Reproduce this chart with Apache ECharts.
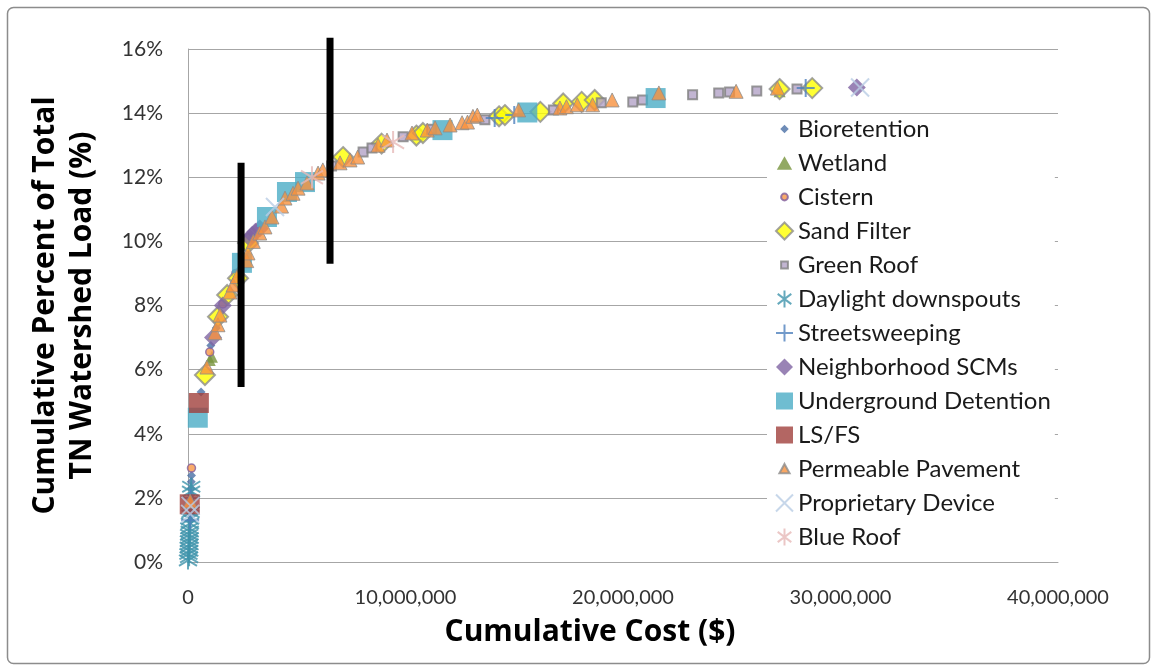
<!DOCTYPE html>
<html>
<head>
<meta charset="utf-8">
<script src="https://cdn.jsdelivr.net/npm/echarts@6/dist/echarts.min.js"></script>
<style>
  body { margin: 0; background: #fff; }
  #main { width: 1153px; height: 666px; }
</style>
</head>
<body>
<div id="main"></div>
<script>
// cost ($), cumulative percent of TN load (%)
const bioretention = [[0.12e6, 1.3], [0.13e6, 1.5], [0.13e6, 1.7], [0.14e6, 1.9], [0.14e6, 2.1], [0.15e6, 2.3], [0.15e6, 2.5], [0.16e6, 2.7], [0.6e6, 5.3], [1.05e6, 6.75], [1.3e6, 7.3]];
const wetland = [[1.0e6, 6.3], [1.1e6, 6.4], [27.2e6, 14.68]];
const cistern = [[0.16e6, 2.93], [1.0e6, 6.55], [1.6e6, 8.05], [2.2e6, 9.0]];
const sandFilter = [[0.78e6, 5.83], [1.38e6, 7.65], [1.8e6, 8.33], [2.3e6, 8.85], [2.76e6, 9.95], [7.13e6, 12.63], [8.9e6, 13.05], [10.5e6, 13.3], [10.8e6, 13.38], [14.3e6, 13.9], [14.57e6, 13.94], [16.2e6, 14.04], [17.25e6, 14.3], [18.1e6, 14.35], [18.7e6, 14.41], [27.2e6, 14.75], [28.7e6, 14.78]];
const greenRoof = [[6.6e6, 12.35], [8.05e6, 12.79], [8.46e6, 12.91], [9.89e6, 13.26], [11.2e6, 13.5], [13.65e6, 13.79], [16.8e6, 14.1], [19.0e6, 14.32], [20.45e6, 14.35], [20.9e6, 14.41], [23.2e6, 14.57], [24.4e6, 14.63], [24.9e6, 14.66], [26.15e6, 14.69], [28.0e6, 14.75]];
const daylight = [[0.0e6, 0.05], [0.05e6, 0.15], [0.02e6, 0.25], [0.06e6, 0.35], [0.03e6, 0.45], [0.07e6, 0.55], [0.04e6, 0.65], [0.08e6, 0.75], [0.05e6, 0.85], [0.08e6, 0.95], [0.06e6, 1.05], [0.09e6, 1.2], [0.1e6, 1.35], [0.12e6, 1.55], [0.14e6, 2.2], [0.15e6, 2.35]];
const streetsweeping = [[0.1e6, 1.3], [0.11e6, 1.6], [0.12e6, 2.0], [14.1e6, 13.85], [15.0e6, 13.94], [28.4e6, 14.78]];
const neighborhood = [[1.15e6, 7.0], [1.6e6, 8.0], [2.85e6, 10.1], [2.95e6, 10.2], [3.1e6, 10.3], [3.3e6, 10.4], [30.75e6, 14.8]];
const undergroundDetention = [[0.45e6, 4.5], [2.48e6, 9.33], [3.63e6, 10.76], [4.55e6, 11.54], [5.38e6, 11.85], [11.7e6, 13.47], [15.6e6, 14.02], [21.5e6, 14.47]];
const lsfs = [[0.08e6, 1.8], [0.5e6, 4.96]];
const permeable = [[0.1e6, 1.9], [0.87e6, 6.08], [1.24e6, 7.15], [1.38e6, 7.4], [1.47e6, 7.7], [1.93e6, 8.42], [2.07e6, 8.64], [2.25e6, 8.9], [2.7e6, 9.4], [2.76e6, 9.64], [3.0e6, 10.0], [3.3e6, 10.26], [3.54e6, 10.45], [3.86e6, 10.76], [4.3e6, 11.1], [4.46e6, 11.35], [4.83e6, 11.5], [5.06e6, 11.66], [5.47e6, 11.82], [5.98e6, 12.13], [6.2e6, 12.23], [6.99e6, 12.45], [7.45e6, 12.54], [7.8e6, 12.63], [8.74e6, 13.0], [9.15e6, 13.16], [10.3e6, 13.38], [11.0e6, 13.47], [11.36e6, 13.54], [12.05e6, 13.63], [12.6e6, 13.7], [12.85e6, 13.72], [13.1e6, 13.9], [13.3e6, 13.94], [15.2e6, 14.1], [17.1e6, 14.16], [17.4e6, 14.2], [17.9e6, 14.26], [18.6e6, 14.26], [19.5e6, 14.41], [21.65e6, 14.63], [25.2e6, 14.68], [27.1e6, 14.78]];
const proprietary = [[0.1e6, 1.5], [0.12e6, 1.75], [4.0e6, 11.07], [30.9e6, 14.8]];
const blueRoof = [[5.7e6, 12.0], [9.43e6, 13.1]];

// the two black marker bars
const bar1 = [[2.44e6, 5.46], [2.44e6, 12.45]];
const bar2 = [[6.53e6, 9.3], [6.53e6, 16.35]];

const yTicks = [0, 2, 4, 6, 8, 10, 12, 14, 16];
const xTicks = [0, 10e6, 20e6, 30e6, 40e6];

const FONT = 'Lato';
const TITLE_FONT = 'Open Sans';
const ASTERISK = 'path://M0,-10L0,10M-8,-6L8,6M-8,6L8,-6';
const PLUS = 'path://M0,-10L0,10M-10,0L10,0';
const CROSS = 'path://M-10,-10L10,10M-10,10L10,-10';
// legend-only icons: an invisible frame keeps the small marks small
const FRAME = 'M-10,-10L-10,-10M10,10L10,10';
const SMALL_DIAMOND = 'path://' + FRAME + 'M0,-5L5,0L0,5L-5,0Z';
const SMALL_RECT = 'path://' + FRAME + 'M-4,-4L4,-4L4,4L-4,4Z';
const SMALL_CIRCLE = 'path://' + FRAME + 'M-4,0A4,4 0 1,0 4,0A4,4 0 1,0 -4,0Z';
const SMALL_TRIANGLE = 'path://' + FRAME + 'M0,-6L6,5L-6,5Z';
const MID_TRIANGLE = 'path://' + FRAME + 'M0,-8L9,8L-9,8Z';

function sc(name, data, symbol, size, style) {
  return {
    name: name, type: 'scatter', data: data,
    symbol: symbol, symbolSize: size,
    itemStyle: style,
    emphasis: { disabled: true }
  };
}

const chart = echarts.init(document.getElementById('main'));
chart.setOption({
  animation: false,
  backgroundColor: '#fff',
  textStyle: { fontFamily: FONT },
  graphic: [{
    type: 'rect', left: 5, top: 5, silent: true, z: -10,
    shape: { width: 1142, height: 656, r: 6 },
    style: { fill: 'none', stroke: '#8c8c8c', lineWidth: 1.5 }
  }],
  grid: { left: 188, right: 95, top: 49, bottom: 104 },
  legend: {
    orient: 'vertical', left: 767, top: 115,
    backgroundColor: '#fff', padding: [2, 4, 6, 8],
    itemWidth: 17, itemHeight: 17, itemGap: 10,
    textStyle: { fontFamily: FONT, fontSize: 24, color: '#1a1a1a', lineHeight: 24 },
    data: [
      { name: 'Bioretention', icon: SMALL_DIAMOND },
      { name: 'Wetland', icon: MID_TRIANGLE },
      { name: 'Cistern', icon: SMALL_CIRCLE },
      { name: 'Sand Filter' },
      { name: 'Green Roof', icon: SMALL_RECT },
      { name: 'Daylight downspouts' },
      { name: 'Streetsweeping' },
      { name: 'Neighborhood SCMs' },
      { name: 'Underground Detention' },
      { name: 'LS/FS' },
      { name: 'Permeable Pavement', icon: SMALL_TRIANGLE },
      { name: 'Proprietary Device' },
      { name: 'Blue Roof' }
    ],
    z: 20
  },
  xAxis: {
    type: 'value', min: xTicks[0], max: xTicks[xTicks.length - 1], interval: 10e6,
    name: 'Cumulative Cost ($)', nameLocation: 'middle', nameGap: 55,
    nameTextStyle: { fontFamily: TITLE_FONT, fontSize: 30, fontWeight: 'bold', color: '#000', padding: [0, 66, 0, 0] },
    axisLine: { show: true, lineStyle: { color: '#a6a6a6', width: 1 } },
    axisTick: { show: false },
    splitLine: { show: false },
    axisLabel: {
      fontFamily: FONT, fontSize: 20, color: '#333', margin: 26,
      formatter: v => v.toLocaleString('en-US')
    }
  },
  yAxis: {
    type: 'value', min: yTicks[0], max: yTicks[yTicks.length - 1], interval: 2,
    name: 'Cumulative Percent of Total\nTN Watershed Load (%)', nameLocation: 'middle', nameGap: 87,
    nameTextStyle: { fontFamily: TITLE_FONT, fontSize: 30, fontWeight: 'bold', color: '#000', lineHeight: 37 },
    axisLine: { show: true, lineStyle: { color: '#a6a6a6', width: 1 } },
    axisTick: { show: false },
    splitLine: { lineStyle: { color: '#a6a6a6', width: 1 } },
    axisLabel: { fontFamily: FONT, fontSize: 21, color: '#333', margin: 25, formatter: '{value}%' }
  },
  series: [
    sc('Bioretention', bioretention, 'diamond', 9, { color: '#4a6fa5' }),
    sc('Wetland', wetland, 'triangle', 12, { color: '#77933c' }),
    sc('Cistern', cistern, 'circle', 8, { color: '#f79646', borderColor: '#7f5fa0', borderWidth: 1.5 }),
    sc('Sand Filter', sandFilter, 'diamond', 20, { color: '#ffff00', borderColor: '#8c8c8c', borderWidth: 2 }),
    sc('Green Roof', greenRoof, 'rect', 9, { color: '#b3a2c7', borderColor: '#7f7f7f', borderWidth: 2 }),
    sc('Daylight downspouts', daylight, ASTERISK, 18, { color: '#3e94ab', borderColor: '#3e94ab', borderWidth: 2 }),
    sc('Streetsweeping', streetsweeping, PLUS, 18, { color: '#4f81bd', borderColor: '#4f81bd', borderWidth: 2 }),
    sc('Neighborhood SCMs', neighborhood, 'diamond', 18, { color: '#8064a2' }),
    sc('Underground Detention', undergroundDetention, 'rect', 20, { color: '#4bacc6' }),
    sc('LS/FS', lsfs, 'rect', 20, { color: '#a0403c' }),
    sc('Permeable Pavement', permeable, 'triangle', 14, { color: '#f7913d', borderColor: '#8c8c8c', borderWidth: 1 }),
    sc('Proprietary Device', proprietary, CROSS, 18, { color: '#b9cde5', borderColor: '#b9cde5', borderWidth: 2 }),
    sc('Blue Roof', blueRoof, ASTERISK, 22, { color: '#e6b9b8', borderColor: '#e6b9b8', borderWidth: 2 }),
    { type: 'line', data: bar1, symbol: 'none', clip: false, z: 10, silent: true, lineStyle: { color: '#000', width: 7 } },
    { type: 'line', data: bar2, symbol: 'none', clip: false, z: 10, silent: true, lineStyle: { color: '#000', width: 7 } }
  ]
});
</script>
</body>
</html>
